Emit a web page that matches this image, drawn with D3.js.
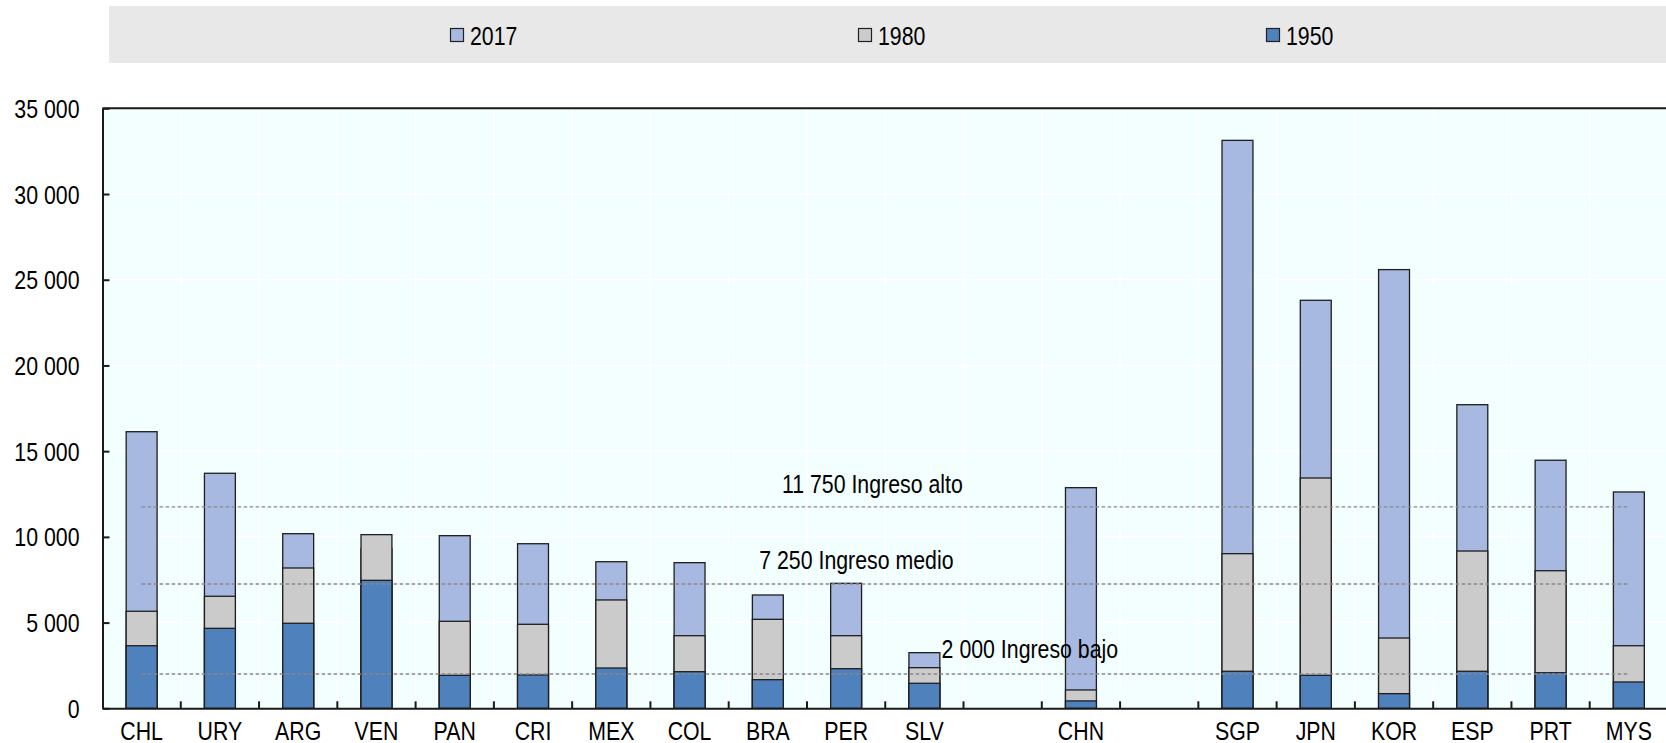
<!DOCTYPE html>
<html>
<head>
<meta charset="utf-8">
<script src="https://cdn.jsdelivr.net/npm/d3@7"></script>
<style>
body { margin:0; background:#fff; }
svg text { font-family:"Liberation Sans Narrow","Arial Narrow","Liberation Sans",Arial,sans-serif; fill:#000; font-size:26px; }
</style>
</head>
<body>
<svg id="chart"></svg>
<script>
// countries, empty strings are the gaps between the groups
var categories = ["CHL","URY","ARG","VEN","PAN","CRI","MEX","COL","BRA","PER","SLV","","CHN","","SGP","JPN","KOR","ESP","PRT","MYS"];

var seriesNames = ["2017","1980","1950"];

var values2017 = [16135,13710,10185,9300,10070,9600,8550,8495,6610,7290,3245,null,12870,null,33130,23800,25590,17710,14470,12620];
var values1980 = [5660,6535,8185,10130,5075,4900,6320,4235,5190,4235,2370,null,1070,null,9020,13435,4100,9175,8025,3650];
var values1950 = [3650,4665,4960,7465,1925,1945,2350,2135,1670,2310,1460,null,430,null,2160,1925,855,2160,2075,1535];

var thresholdValues = [11750,7250,2000];
var thresholdLabels = ["11 750 Ingreso alto","7 250 Ingreso medio","2 000 Ingreso bajo"];

var yTicks = [0,5000,10000,15000,20000,25000,30000,35000];

var colors = {"2017":"#a7b8e1","1980":"#cbcbcb","1950":"#4f81bd"};

var screen = {width:1666,height:743};
var plot = {left:102.5,right:1668,top:108.3,bottom:708.3};
// no narrow face is installed, so the regular face is squeezed
var squeeze = 0.82;

var svg = d3.select("#chart")
    .attr("width",screen.width)
    .attr("height",screen.height);

var xScale = d3.scaleBand()
    .domain(categories.map(function(c,i){ return i; }))
    .range([plot.left,plot.right])
    .paddingInner(0)
    .paddingOuter(0);

var yScale = d3.scaleLinear()
    .domain([0,35000])
    .range([plot.bottom,plot.top]);

var locale = d3.formatLocale({decimal:",",thousands:" ",grouping:[3],currency:["",""]});
var fmt = locale.format(",");

// puts text at x,y and squeezes it horizontally
var narrowText = function(parent,x,y,str,anchor)
{
    return parent.append("text")
        .attr("transform","translate("+x+","+y+") scale("+squeeze+",1)")
        .attr("text-anchor",anchor||"start")
        .text(str);
}

var drawLegend = function()
{
    var legend = svg.append("g").classed("legend",true);
    legend.append("rect")
        .attr("x",109).attr("y",6)
        .attr("width",screen.width-109).attr("height",57)
        .attr("fill","#e8e8e8");

    var entries = legend.selectAll("g.entry")
        .data(seriesNames)
        .enter()
        .append("g")
        .classed("entry",true)
        .attr("transform",function(d,i){ return "translate("+(450.5+i*408)+",28.5)"; });

    entries.append("rect")
        .attr("width",13).attr("height",13)
        .attr("fill",function(d){ return colors[d]; })
        .attr("stroke","#222").attr("stroke-width",1.2);

    entries.each(function(d){
        narrowText(d3.select(this),19.5,16.5,d);
    });
}

var drawBackground = function()
{
    svg.append("rect")
        .attr("x",plot.left).attr("y",plot.top)
        .attr("width",plot.right-plot.left).attr("height",plot.bottom-plot.top)
        .attr("fill","#f3fefe");

    var grid = svg.append("g").classed("grid",true);
    grid.selectAll("line.h")
        .data(yTicks.slice(1))
        .enter().append("line")
        .attr("x1",plot.left).attr("x2",plot.right)
        .attr("y1",function(d){ return yScale(d); })
        .attr("y2",function(d){ return yScale(d); })
        .attr("stroke","#fff").attr("stroke-width",1.5);

    grid.selectAll("line.v")
        .data(categories.slice(1).map(function(c,i){ return i+1; }))
        .enter().append("line")
        .attr("x1",function(d){ return xScale(d); })
        .attr("x2",function(d){ return xScale(d); })
        .attr("y1",plot.top).attr("y2",plot.bottom)
        .attr("stroke","#fff").attr("stroke-width",1.5);
}

var drawSeries = function(vals,name)
{
    var barW = xScale.bandwidth()*0.395;
    var data = vals.map(function(v,i){ return {i:i,v:v}; })
        .filter(function(d){ return d.v!=null; });
    svg.append("g")
        .classed("series-"+name,true)
        .selectAll("rect")
        .data(data)
        .enter()
        .append("rect")
        .attr("x",function(d){ return xScale(d.i)+xScale.bandwidth()/2-barW/2; })
        .attr("y",function(d){ return yScale(d.v); })
        .attr("width",barW)
        .attr("height",function(d){ return yScale(0)-yScale(d.v); })
        .attr("fill",colors[name])
        .attr("stroke","#1e1e1e")
        .attr("stroke-width",1.3);
}

// dashed income lines sit on top of the bars
var drawThresholds = function()
{
    var x1 = xScale(0)+xScale.bandwidth()/2;
    var x2 = xScale(categories.length-1)+xScale.bandwidth()/2;
    var g = svg.append("g").classed("thresholds",true);
    g.selectAll("line")
        .data(thresholdValues)
        .enter().append("line")
        .attr("x1",x1).attr("x2",x2)
        .attr("y1",function(d){ return yScale(d); })
        .attr("y2",function(d){ return yScale(d); })
        .attr("stroke","#888").attr("stroke-width",1.4)
        .attr("stroke-dasharray","3.5,2.5");

    // label anchors, in band units from the left, and lift above the line
    var labelPos = [8.68,8.39,10.72];
    var labelLift = [14,15,16];
    thresholdValues.forEach(function(v,i){
        narrowText(g,plot.left+labelPos[i]*xScale.bandwidth(),yScale(v)-labelLift[i],thresholdLabels[i]);
    });
}

var drawAxes = function()
{
    var yAxis = d3.axisLeft(yScale)
        .tickValues(yTicks)
        .tickFormat(fmt)
        .tickSizeInner(-7)
        .tickSizeOuter(0)
        .tickPadding(23);
    var ya = svg.append("g")
        .attr("transform","translate("+plot.left+",0)")
        .call(yAxis);
    ya.select(".domain").attr("stroke","#1a1a1a").attr("stroke-width",2);
    ya.selectAll(".tick line").attr("stroke","#1a1a1a").attr("stroke-width",2);
    ya.selectAll("text")
        .attr("dy",null)
        .attr("x",null)
        .attr("transform","translate(-23,9) scale("+squeeze+",1)")
        .style("font-size",null);

    // top border
    svg.append("line")
        .attr("x1",plot.left).attr("x2",plot.right)
        .attr("y1",plot.top).attr("y2",plot.top)
        .attr("stroke","#1a1a1a").attr("stroke-width",2);

    var xAxis = d3.axisBottom(xScale)
        .tickFormat(function(i){ return categories[i]; })
        .tickSize(0)
        .tickPadding(0);
    var xa = svg.append("g")
        .attr("transform","translate(0,"+plot.bottom+")")
        .call(xAxis);
    xa.select(".domain").attr("stroke","#1a1a1a").attr("stroke-width",2);
    xa.selectAll("text")
        .attr("dy",null)
        .attr("y",null)
        .attr("transform","translate(0,32) scale("+squeeze+",1)");

    // small ticks between the bands
    xa.selectAll("line.sep")
        .data(categories.slice(1).map(function(c,i){ return i+1; }))
        .enter().append("line")
        .classed("sep",true)
        .attr("x1",function(d){ return xScale(d); })
        .attr("x2",function(d){ return xScale(d); })
        .attr("y1",0).attr("y2",-7)
        .attr("stroke","#1a1a1a").attr("stroke-width",2);
}

drawLegend();
drawBackground();
drawSeries(values2017,"2017");
drawSeries(values1980,"1980");
drawSeries(values1950,"1950");
drawThresholds();
drawAxes();
</script>
</body>
</html>
